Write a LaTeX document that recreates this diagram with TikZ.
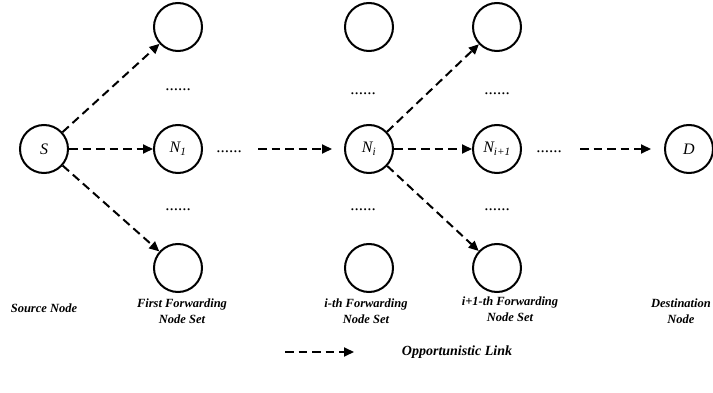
\documentclass[tikz,border=0pt]{standalone}
\usepackage{fontspec}
\setmainfont{Liberation Serif}
\usetikzlibrary{arrows.meta}
\tikzset{
  netnode/.style={circle, draw, line width=2pt, minimum size=48pt, inner sep=0pt, font=\fontsize{16}{18}\selectfont\itshape},
  oplink/.style={line width=2pt, dash pattern=on 8.5pt off 5pt, -{Triangle[length=10pt,width=9pt]}},
  caption/.style={font=\fontsize{12.5}{15.5}\selectfont\bfseries\itshape, align=center},
  ellip/.style={font=\fontsize{17}{18}\selectfont, inner sep=0pt}
}
\begin{document}
\begin{tikzpicture}[x=1pt,y=-1pt]
\useasboundingbox (0,0) rectangle (713,393);
% source and destination
\node[netnode] (s) at (44,149) {S};
\node[netnode] (d) at (689,149) {D};
% first forwarding node set
\node[netnode] (a1) at (178,27) {};
\node[netnode] (a2) at (178,149) {N\textsubscript{1}};
\node[netnode] (a3) at (178,268) {};
\node[ellip] (da1) at (178,90) {......};
\node[ellip] (da2) at (178,210) {......};
% i-th forwarding node set
\node[netnode] (b1) at (369,27) {};
\node[netnode] (b2) at (369,149) {N\textsubscript{i}};
\node[netnode] (b3) at (369,268) {};
\node[ellip] (db1) at (363,94) {......};
\node[ellip] (db2) at (363,210) {......};
% (i+1)-th forwarding node set
\node[netnode] (c1) at (497,27) {};
\node[netnode] (c2) at (497,149) {N\textsubscript{i+1}};
\node[netnode] (c3) at (497,268) {};
\node[ellip] (dc1) at (497,94) {......};
\node[ellip] (dc2) at (497,210) {......};
% gaps between sets
\node[ellip] (g1) at (229,152) {......};
\node[ellip] (g2) at (549,152) {......};
\coordinate (p1) at (258,149);
\coordinate (q1) at (332,149);
\coordinate (p2) at (580,149);
\coordinate (q2) at (651,149);
% links
\draw[oplink] (s) -- (a1);
\draw[oplink] (s) -- (a2);
\draw[oplink] (s) -- (a3);
\draw[oplink] (p1) -- (q1);
\draw[oplink] (b2) -- (c1);
\draw[oplink] (b2) -- (c2);
\draw[oplink] (b2) -- (c3);
\draw[oplink] (p2) -- (q2);
% captions
\node[caption] (l1) at (44,308) {Source Node};
\node[caption] (l2) at (182,311) {First Forwarding\\Node Set};
\node[caption] (l3) at (366,311) {i-th Forwarding\\Node Set};
\node[caption] (l4) at (510,309) {i+1-th Forwarding\\Node Set};
\node[caption] (l5) at (681,311) {Destination\\Node};
% legend
\coordinate (k1) at (285,352);
\coordinate (k2) at (354,352);
\draw[oplink] (k1) -- (k2);
\node[caption, font=\fontsize{14}{16}\selectfont\bfseries\itshape] (kl) at (457,352) {Opportunistic Link};
\end{tikzpicture}
\end{document}
